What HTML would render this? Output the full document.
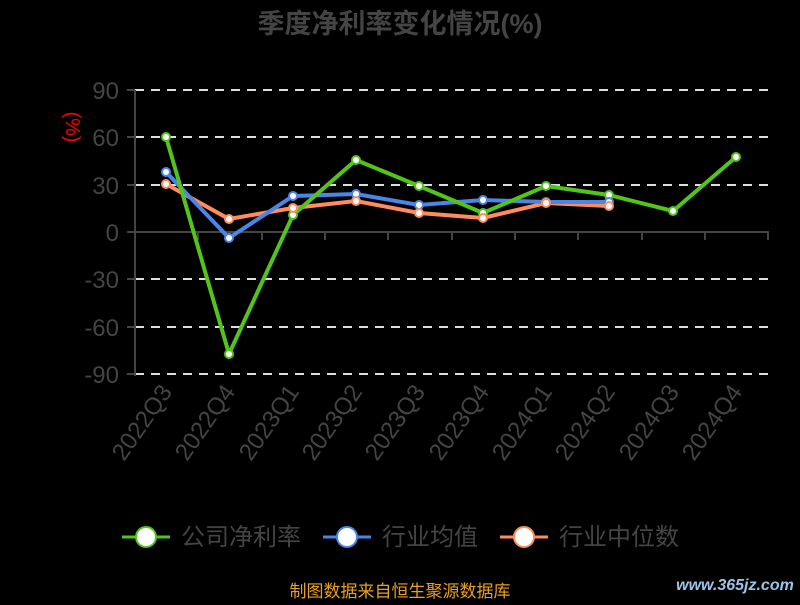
<!DOCTYPE html>
<html><head><meta charset="utf-8"><style>
body{margin:0;background:#000;width:800px;height:600px;overflow:hidden}
svg text{font-family:"Liberation Sans","Noto Sans CJK SC",sans-serif}
</style></head><body>
<svg width="800" height="600" xmlns="http://www.w3.org/2000/svg">
<rect width="800" height="600" fill="#000"/>
<text x="400" y="33" text-anchor="middle" font-size="27" font-weight="bold" fill="#444">季度净利率变化情况(%)</text>
<g stroke="#ddd" stroke-width="2" stroke-dasharray="9,7">
<line x1="135" x2="768" y1="90" y2="90"/><line x1="135" x2="768" y1="137" y2="137"/><line x1="135" x2="768" y1="185" y2="185"/>
<line x1="135" x2="768" y1="279" y2="279"/><line x1="135" x2="768" y1="327" y2="327"/><line x1="135" x2="768" y1="374" y2="374"/>
</g>
<g stroke="#444" stroke-width="2">
<line x1="135" x2="135" y1="90" y2="376"/>
<line x1="135" x2="769" y1="232" y2="232"/>
<line x1="127" x2="135" y1="90" y2="90"/><line x1="127" x2="135" y1="137" y2="137"/><line x1="127" x2="135" y1="185" y2="185"/><line x1="127" x2="135" y1="232" y2="232"/><line x1="127" x2="135" y1="279" y2="279"/><line x1="127" x2="135" y1="327" y2="327"/><line x1="127" x2="135" y1="374" y2="374"/>
<line x1="198" x2="198" y1="232" y2="240"/><line x1="262" x2="262" y1="232" y2="240"/><line x1="325" x2="325" y1="232" y2="240"/><line x1="388" x2="388" y1="232" y2="240"/><line x1="452" x2="452" y1="232" y2="240"/><line x1="515" x2="515" y1="232" y2="240"/><line x1="578" x2="578" y1="232" y2="240"/><line x1="642" x2="642" y1="232" y2="240"/><line x1="705" x2="705" y1="232" y2="240"/><line x1="768" x2="768" y1="232" y2="240"/>
</g>
<g font-size="24" fill="#444" text-anchor="end">
<text x="119" y="99">90</text><text x="119" y="146">60</text><text x="119" y="194">30</text><text x="119" y="241">0</text><text x="119" y="288">-30</text><text x="119" y="336">-60</text><text x="119" y="383">-90</text>
</g>
<text transform="translate(66,127) rotate(90)" text-anchor="middle" font-size="20" fill="#f00">(%)</text>
<g font-size="24" fill="#444" text-anchor="end">
<text transform="translate(173,392) rotate(-55)">2022Q3</text>
<text transform="translate(236,392) rotate(-55)">2022Q4</text>
<text transform="translate(300,392) rotate(-55)">2023Q1</text>
<text transform="translate(363,392) rotate(-55)">2023Q2</text>
<text transform="translate(426,392) rotate(-55)">2023Q3</text>
<text transform="translate(490,392) rotate(-55)">2023Q4</text>
<text transform="translate(553,392) rotate(-55)">2024Q1</text>
<text transform="translate(616,392) rotate(-55)">2024Q2</text>
<text transform="translate(680,392) rotate(-55)">2024Q3</text>
<text transform="translate(743,392) rotate(-55)">2024Q4</text>
</g>
<polyline fill="none" stroke="#ff8c5a" stroke-width="4" points="166,184 229,219 293,208 356,201 419,213 483,218 546,203 609,206"/>
<polyline fill="none" stroke="#4a86e8" stroke-width="4" points="166,172 229,238 293,196 356,194 419,205 483,200 546,202 609,202"/>
<polyline fill="none" stroke="#52c41a" stroke-width="4" points="166,137 229,354 293,215 356,160 419,186 483,213 546,186 609,195 673,211 736,157"/>
<g fill="#fff" stroke="#52c41a" stroke-width="2">
<circle cx="166" cy="137" r="4"/><circle cx="229" cy="354" r="4"/><circle cx="293" cy="215" r="4"/><circle cx="356" cy="160" r="4"/><circle cx="419" cy="186" r="4"/><circle cx="483" cy="213" r="4"/><circle cx="546" cy="186" r="4"/><circle cx="609" cy="195" r="4"/><circle cx="673" cy="211" r="4"/><circle cx="736" cy="157" r="4"/>
</g>
<g fill="#fff" stroke="#4a86e8" stroke-width="2">
<circle cx="166" cy="172" r="4"/><circle cx="229" cy="238" r="4"/><circle cx="293" cy="196" r="4"/><circle cx="356" cy="194" r="4"/><circle cx="419" cy="205" r="4"/><circle cx="483" cy="200" r="4"/><circle cx="546" cy="202" r="4"/><circle cx="609" cy="202" r="4"/>
</g>
<g fill="#fff" stroke="#ff8c5a" stroke-width="2">
<circle cx="166" cy="184" r="4"/><circle cx="229" cy="219" r="4"/><circle cx="293" cy="208" r="4"/><circle cx="356" cy="201" r="4"/><circle cx="419" cy="213" r="4"/><circle cx="483" cy="218" r="4"/><circle cx="546" cy="203" r="4"/><circle cx="609" cy="206" r="4"/>
</g>
<g font-size="24" fill="#444">
<line x1="122" x2="170" y1="537" y2="537" stroke="#52c41a" stroke-width="3"/><circle cx="146" cy="537" r="10" fill="#fff" stroke="#52c41a" stroke-width="2"/>
<text x="181" y="545">公司净利率</text>
<line x1="323" x2="371" y1="537" y2="537" stroke="#4a86e8" stroke-width="3"/><circle cx="347" cy="537" r="10" fill="#fff" stroke="#4a86e8" stroke-width="2"/>
<text x="382" y="545">行业均值</text>
<line x1="500" x2="548" y1="537" y2="537" stroke="#ff8c5a" stroke-width="3"/><circle cx="524" cy="537" r="10" fill="#fff" stroke="#ff8c5a" stroke-width="2"/>
<text x="559" y="545">行业中位数</text>
</g>
<text x="400" y="597" text-anchor="middle" font-size="17" fill="#e8a020">制图数据来自恒生聚源数据库</text>
<text x="735" y="590" text-anchor="middle" font-size="16" font-weight="bold" fill="#9bc4e8" font-style="italic">www.365jz.com</text>
</svg>
</body></html>
